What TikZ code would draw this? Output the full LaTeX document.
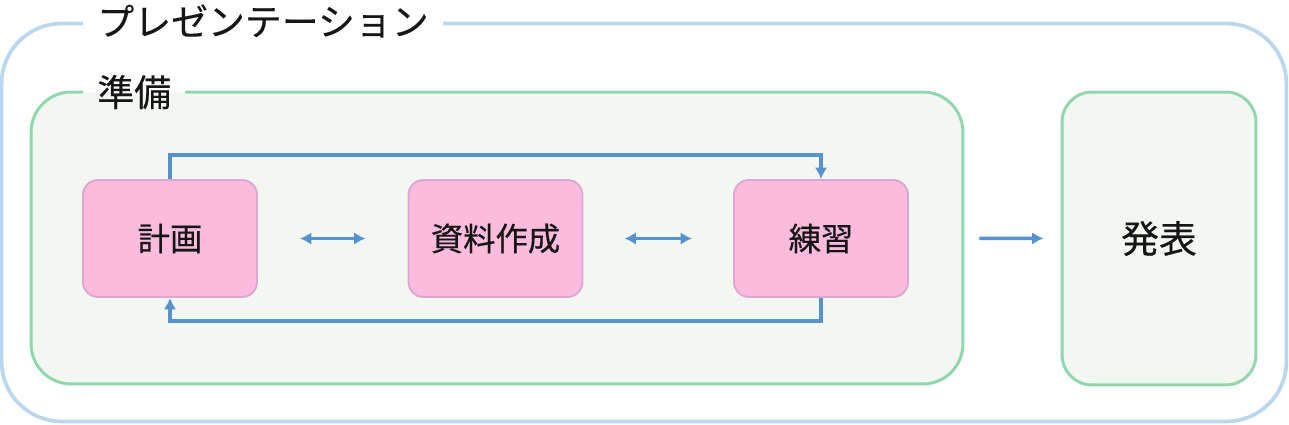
\documentclass[tikz,border=0pt]{standalone}
\usepackage{fontspec}
\usetikzlibrary{arrows.meta,positioning,calc}
\newfontfamily\jpfont[FakeBold=0.35]{Noto Sans CJK JP}
\definecolor{outerblue}{RGB}{186,215,238}
\definecolor{grpgreen}{RGB}{146,214,172}
\definecolor{grpfill}{RGB}{242,248,241}
\definecolor{taskpink}{RGB}{250,187,221}
\definecolor{taskedge}{RGB}{222,166,210}
\definecolor{flowblue}{RGB}{86,146,206}
\definecolor{ink}{RGB}{22,22,22}
\pgfdeclareverticalshading{tagsplit}{100bp}{color(0bp)=(grpfill); color(50bp)=(grpfill); color(50bp)=(white); color(100bp)=(white)}

\begin{document}
\begin{tikzpicture}[x=0.02cm,y=-0.02cm,>={Latex[length=2.3mm,width=2.5mm]},font=\jpfont,text=ink,
  group/.style={draw=grpgreen,line width=1.7pt,fill=grpfill,rounded corners=0.8cm},
  task/.style={draw=taskedge,line width=1.1pt,fill=taskpink,rounded corners=0.3cm,minimum width=3.48cm,minimum height=2.34cm,font=\jpfont\fontsize{18.4}{18.4}\selectfont},
  flow/.style={->,draw=flowblue,line width=1.9pt},
  tag/.style={fill=white,inner xsep=0.28cm,inner ysep=0pt,anchor=west,font=\jpfont\fontsize{21}{21}\selectfont}]
\useasboundingbox (0,0) rectangle (1289,425);
\node[draw=outerblue,line width=2.1pt,rounded corners=1.2cm,minimum width=25.7cm,minimum height=7.96cm] (pres) at (644,222.5) {};
\node[tag] (presT) at (83,21) {プレゼンテーション};
\node[group,minimum width=18.64cm,minimum height=5.84cm] (prep) at (497,238) {};
\node[tag,shading=tagsplit] (prepT) at (83,92) {準備};
\node[group,rounded corners=0.6cm,minimum width=3.88cm,minimum height=5.86cm,font=\jpfont\fontsize{21.5}{21.5}\selectfont] (talk) at (1159,238.5) {発表};
\node[task] (plan) at (170,238.5) {計画};
\node[task] (docs) at (495.5,238.5) {資料作成};
\node[task] (drill) at (821,238.5) {練習};
\draw[flow,<->,shorten <=0.84cm,shorten >=0.84cm] (plan) -- (docs);
\draw[flow,<->,shorten <=0.82cm,shorten >=0.82cm] (docs) -- (drill);
\draw[flow,shorten <=0.3cm,shorten >=0.34cm] (prep) -- (talk);
\draw[flow] (plan.north) -- ++(0,-24) -| (drill.north);
\draw[flow] (drill.south) -- ++(0,23) -| (plan.south);
\end{tikzpicture}
\end{document}
